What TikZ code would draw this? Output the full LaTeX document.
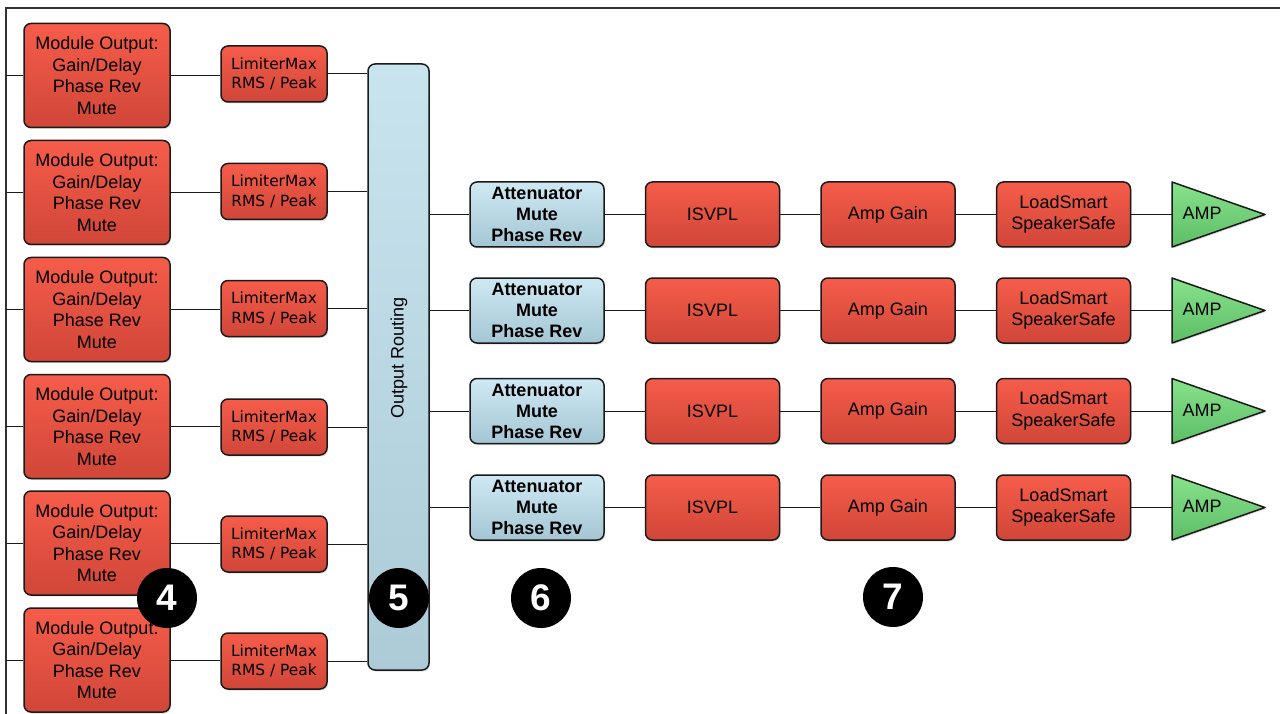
\documentclass[tikz,border=0pt]{standalone}
\usepackage{fontspec}
\usepackage{graphicx}
\usetikzlibrary{shadows}
\newfontfamily\arialf{Liberation Sans}
\newfontfamily\dejavuf{DejaVu Sans}
\definecolor{redtop}{RGB}{246,92,74}
\definecolor{redbot}{RGB}{208,70,56}
\definecolor{bluetop}{RGB}{206,233,243}
\definecolor{bluebot}{RGB}{164,198,212}
\definecolor{rttop}{RGB}{200,228,239}
\definecolor{rtbot}{RGB}{172,203,215}
\definecolor{greentop}{RGB}{136,226,140}
\definecolor{greenbot}{RGB}{92,190,102}
\definecolor{edge}{RGB}{26,26,26}
\definecolor{framec}{RGB}{50,50,50}
\tikzset{
  boxbase/.style={draw=edge, line width=1.5pt, rounded corners=7pt, inner sep=0pt, align=center,
    drop shadow={opacity=0.25, shadow xshift=1pt, shadow yshift=-1.5pt}},
  redbox/.style={boxbase, top color=redtop, bottom color=redbot},
  modbox/.style={redbox, minimum width=146pt, minimum height=104pt, font=\arialf\fontsize{18}{21.5}\selectfont},
  limbox/.style={redbox, minimum width=106pt, minimum height=56pt, font=\dejavuf\fontsize{15.4}{19.5}\selectfont},
  chainbox/.style={redbox, minimum width=134pt, minimum height=65pt, font=\arialf\fontsize{18}{21.5}\selectfont},
  attbox/.style={boxbase, top color=bluetop, bottom color=bluebot, minimum width=134pt, minimum height=65pt, font=\arialf\bfseries\fontsize{18}{21}\selectfont},
  rtbox/.style={boxbase, top color=rttop, bottom color=rtbot, minimum width=61pt, minimum height=606pt},
  amptri/.style={draw=edge, line width=1.5pt, line join=round, top color=greentop, bottom color=greenbot,
    drop shadow={opacity=0.25, shadow xshift=1pt, shadow yshift=-1.5pt}},
  amptext/.style={inner sep=0pt, font=\arialf\fontsize{18}{21.5}\selectfont},
  badge/.style={circle, fill=black, minimum size=60pt, inner sep=0pt, text=white, font=\arialf\bfseries\fontsize{37}{37}\selectfont},
  wire/.style={draw=edge, line width=1pt},
}
\begin{document}
\begin{tikzpicture}[x=1pt,y=-1pt]
\useasboundingbox (0,0) rectangle (1280,714);
\fill[white] (0,0) rectangle (1280,714);
% frame
\coordinate (ftl) at (6,8);
\coordinate (ftr) at (1282,8);
\coordinate (fbl) at (6,716);
\draw[framec, line width=2.2pt] (fbl) -- (ftl) -- (ftr);
% output routing bar
\node[rtbox] (rt) at (398.5,367) {};
\node[rotate=90, font=\arialf\fontsize{18}{21.5}\selectfont] (rtl) at (399,358) {Output Routing};
% module outputs and limiters
\foreach \k/\y/\ly in {1/75.5/74, 2/192.5/191.5, 3/309.5/308.5, 4/426.5/427, 5/543/544, 6/660/661}{
  \coordinate (in\k) at (6,\y);
  \node[modbox] (mod\k) at (97,\y) {Module Output:\\Gain/Delay\\Phase Rev\\Mute};
  \node[limbox] (lim\k) at (274,\ly) {LimiterMax\\RMS / Peak};
  \draw[wire] (in\k) -- (mod\k.west);
  \draw[wire] (mod\k.east) -- (lim\k.west |- mod\k.east);
  \draw[wire] (lim\k.east) -- (rt.west |- lim\k.east);
}
% output chains
\foreach \k/\y in {1/214.5, 2/310.5, 3/411, 4/507.5}{
  \node[attbox] (att\k) at (537,\y) {Attenuator\\Mute\\Phase Rev};
  \node[chainbox] (isv\k) at (712.5,\y) {ISVPL};
  \node[chainbox] (gain\k) at (888,\y) {Amp Gain};
  \node[chainbox] (ls\k) at (1063.5,\y) {LoadSmart\\SpeakerSafe};
  \coordinate (amp\k) at (1172,\y);
  \path[amptri] (1172,\y-32.5) -- (1265,\y) -- (1172,\y+32.5) -- cycle;
  \node[amptext] (ampl\k) at (1202,\y-1) {AMP};
  \draw[wire] (rt.east |- att\k.west) -- (att\k.west);
  \draw[wire] (att\k.east) -- (isv\k.west);
  \draw[wire] (isv\k.east) -- (gain\k.west);
  \draw[wire] (gain\k.east) -- (ls\k.west);
  \draw[wire] (ls\k.east) -- (amp\k);
}
% badges
\node[badge] (b4) at (167,598) {4};
\node[badge] (b5) at (399,598) {5};
\node[badge] (b6) at (541,598) {6};
\node[badge] (b7) at (893,597) {7};
\end{tikzpicture}
\end{document}
